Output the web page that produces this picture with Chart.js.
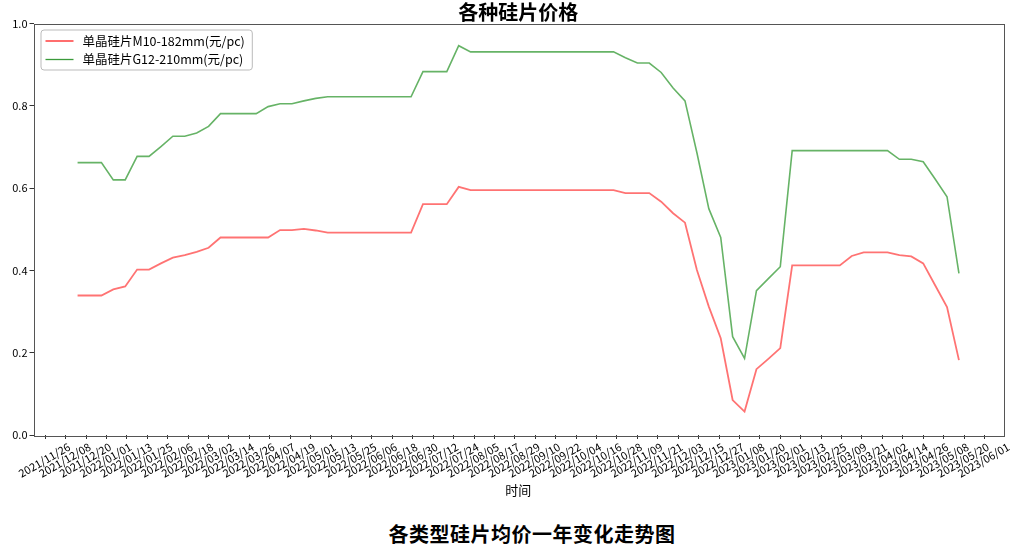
<!DOCTYPE html>
<html>
<head>
<meta charset="utf-8">
<script src="https://cdn.jsdelivr.net/npm/chart.js@4/dist/chart.umd.min.js"></script>
<style>
 body{margin:0;background:#fff;}
 #wrap{position:relative;width:1028px;height:550px;}
 #chart_box{position:absolute;left:0;top:0;width:1028px;height:505px;}
 #caption{position:absolute;left:0;top:519px;width:1064px;text-align:center;
  font:bold 20px "Noto Sans CJK SC",sans-serif;color:#000;letter-spacing:0.5px;}
</style>
</head>
<body>
<div id="wrap">
 <div id="chart_box"><canvas id="canvas_silicon"></canvas></div>
 <div id="caption">各类型硅片均价一年变化走势图</div>
</div>
<script>
/* data */
var chart_title="各种硅片价格";
var axis_x_title="时间";
var series_names=["单晶硅片M10-182mm(元/pc)","单晶硅片G12-210mm(元/pc)"];
var dates=[
 "2021-12-15","2021-12-22","2021-12-29",
 "2022-01-05","2022-01-12","2022-01-19","2022-01-26","2022-02-02","2022-02-09","2022-02-16","2022-02-23",
 "2022-03-02","2022-03-09","2022-03-16","2022-03-23","2022-03-30","2022-04-06","2022-04-13","2022-04-20","2022-04-27",
 "2022-05-04","2022-05-11","2022-05-18","2022-05-25","2022-06-01","2022-06-08","2022-06-15","2022-06-22","2022-06-29",
 "2022-07-06","2022-07-13","2022-07-20","2022-07-27","2022-08-03","2022-08-10","2022-08-17","2022-08-24","2022-08-31",
 "2022-09-07","2022-09-14","2022-09-21","2022-09-28","2022-10-05","2022-10-12","2022-10-19","2022-10-26",
 "2022-11-02","2022-11-09","2022-11-16","2022-11-23","2022-11-30","2022-12-07","2022-12-14","2022-12-21","2022-12-28",
 "2023-01-04","2023-01-11","2023-01-18","2023-01-25","2023-02-01","2023-02-08","2023-02-15","2023-02-22",
 "2023-03-01","2023-03-08","2023-03-15","2023-03-22","2023-03-29","2023-04-05","2023-04-12","2023-04-19","2023-04-26",
 "2023-05-03","2023-05-10","2023-05-17"
];
var m10_prices=[
 0.339,0.339,0.339,0.354,0.361,0.402,0.402,0.417,0.431,0.437,0.445,0.455,
 0.480,0.480,0.480,0.480,0.480,0.498,0.498,0.501,0.497,0.492,
 0.492,0.492,0.492,0.492,0.492,0.492,0.492,
 0.561,0.561,0.561,0.603,
 0.595,0.595,0.595,0.595,0.595,0.595,0.595,0.595,0.595,0.595,0.595,0.595,0.595,
 0.588,0.588,0.588,0.567,0.539,0.516,0.401,0.312,0.235,0.085,0.057,0.160,0.185,0.211,
 0.412,0.412,0.412,0.412,0.412,
 0.435,0.444,0.444,0.444,0.437,0.434,0.417,0.364,0.311,0.182
];
var g12_prices=[
 0.662,0.662,0.662,0.620,0.620,0.677,0.677,0.701,0.726,0.726,0.734,0.750,
 0.781,0.781,0.781,0.781,0.798,0.805,0.805,0.812,0.818,0.822,
 0.822,0.822,0.822,0.822,0.822,0.822,0.822,
 0.883,0.883,0.883,0.946,
 0.931,0.931,0.931,0.931,0.931,0.931,0.931,0.931,0.931,0.931,0.931,0.931,0.931,
 0.917,0.904,0.904,0.881,0.843,0.812,0.686,0.550,0.480,0.239,0.186,0.351,0.380,0.409,
 0.691,0.691,0.691,0.691,0.691,0.691,0.691,0.691,0.691,
 0.670,0.670,0.664,0.622,0.579,0.393
];
var tick_labels=[
 "2021/11/26","2021/12/08","2021/12/20","2022/01/01","2022/01/13","2022/01/25","2022/02/06","2022/02/18",
 "2022/03/02","2022/03/14","2022/03/26","2022/04/07","2022/04/19","2022/05/01","2022/05/13","2022/05/25",
 "2022/06/06","2022/06/18","2022/06/30","2022/07/12","2022/07/24","2022/08/05","2022/08/17","2022/08/29",
 "2022/09/10","2022/09/22","2022/10/04","2022/10/16","2022/10/28","2022/11/09","2022/11/21","2022/12/03",
 "2022/12/15","2022/12/27","2023/01/08","2023/01/20","2023/02/01","2023/02/13","2023/02/25","2023/03/09",
 "2023/03/21","2023/04/02","2023/04/14","2023/04/26","2023/05/08","2023/05/20","2023/06/01"
];
var y_ticks=[0,0.2,0.4,0.6,0.8,1.0];

/* helpers */
// day number counted from the first tick label
function to_day(str){
 var p=str.split(/[-\/]/);
 return Date.UTC(+p[0],+p[1]-1,+p[2])/86400000;
}
var day0=to_day(tick_labels[0]);
function points(values){
 return values.map(function(v,i){return {x:to_day(dates[i])-day0,y:v};});
}
var first_day=to_day(dates[0])-day0;
var last_day=to_day(dates[dates.length-1])-day0;
var margin=(last_day-first_day)*0.05;

var font_family='"Noto Sans CJK SC", sans-serif';
Chart.defaults.font.family=font_family;
Chart.defaults.color='#000';

/* title, frame and legend drawn on the canvas */
var decor_plugin={
 id:'decor',
 afterDraw:function(chart){
  var ctx=chart.ctx,a=chart.chartArea;
  ctx.save();
  // frame
  ctx.strokeStyle='#555';
  ctx.lineWidth=1;
  ctx.strokeRect(Math.round(a.left)+0.5,Math.round(a.top)+0.5,Math.round(a.right-a.left),Math.round(a.bottom-a.top));
  // title
  ctx.fillStyle='#000';
  ctx.font='bold 20px '+font_family;
  ctx.textAlign='center';
  ctx.textBaseline='middle';
  ctx.fillText(chart_title,(a.left+a.right)/2,12);
  // legend
  ctx.font='12.5px '+font_family;
  var sets=chart.data.datasets;
  var w=0;
  sets.forEach(function(s){w=Math.max(w,ctx.measureText(s.label).width);});
  var bx=a.left+7,by=a.top+6,bw=w+49,bh=40;
  ctx.beginPath();
  ctx.roundRect(bx+0.5,by+0.5,bw,bh,3);
  ctx.fillStyle='rgba(255,255,255,0.8)';
  ctx.fill();
  ctx.strokeStyle='#bbb';
  ctx.stroke();
  ctx.textAlign='left';
  sets.forEach(function(s,i){
   var ly=by+11.5+i*18.5;
   ctx.beginPath();
   ctx.moveTo(bx+5,ly);ctx.lineTo(bx+33,ly);
   ctx.strokeStyle=s.legendColor;
   ctx.lineWidth=1.3;
   ctx.stroke();
   ctx.fillStyle='#000';
   ctx.fillText(s.label,bx+42,ly);
  });
  ctx.restore();
 }
};

var ctx=document.getElementById("canvas_silicon").getContext('2d');
var myChart=new Chart(ctx,{
 type:'line',
 data:{
  datasets:[
   {
    label:series_names[0],
    data:points(m10_prices),
    borderColor:'rgba(255,0,0,0.55)',
    legendColor:'#ff2020',
    borderWidth:1.8,
    pointRadius:0,
    tension:0,
    fill:false
   },
   {
    label:series_names[1],
    data:points(g12_prices),
    borderColor:'rgba(0,128,0,0.6)',
    legendColor:'#3a9a3a',
    borderWidth:1.6,
    pointRadius:0,
    tension:0,
    fill:false
   }
  ]
 },
 options:{
  responsive:true,
  maintainAspectRatio:false,
  animation:false,
  layout:{padding:{top:23.5,right:25,left:0,bottom:0}},
  plugins:{legend:{display:false},title:{display:false},tooltip:{enabled:false}},
  scales:{
   x:{
    type:'linear',
    min:first_day-margin,
    max:last_day+margin,
    afterBuildTicks:function(scale){
     scale.ticks=tick_labels.map(function(t){return {value:to_day(t)-day0};});
    },
    afterFit:function(scale){
     scale.height=70;
     scale.paddingLeft=0;
     scale.paddingRight=0;
    },
    border:{display:false},
    grid:{drawOnChartArea:false,drawTicks:true,tickLength:4,color:'#333'},
    ticks:{
     autoSkip:false,
     minRotation:30,
     maxRotation:30,
     padding:1,
     labelOffset:24,
     font:{size:11},
     callback:function(v,i){return tick_labels[i];}
    },
    title:{display:true,text:axis_x_title,font:{size:13},padding:{top:0,bottom:7}}
   },
   y:{
    min:0,
    max:1,
    afterBuildTicks:function(scale){
     scale.ticks=y_ticks.map(function(v){return {value:v};});
    },
    afterFit:function(scale){scale.width=33.5;},
    border:{display:false},
    grid:{drawOnChartArea:false,drawTicks:true,tickLength:4,color:'#333'},
    ticks:{padding:2,font:{size:11},callback:function(v){return v.toFixed(1);}}
   }
  }
 },
 plugins:[decor_plugin]
});
</script>
</body>
</html>
